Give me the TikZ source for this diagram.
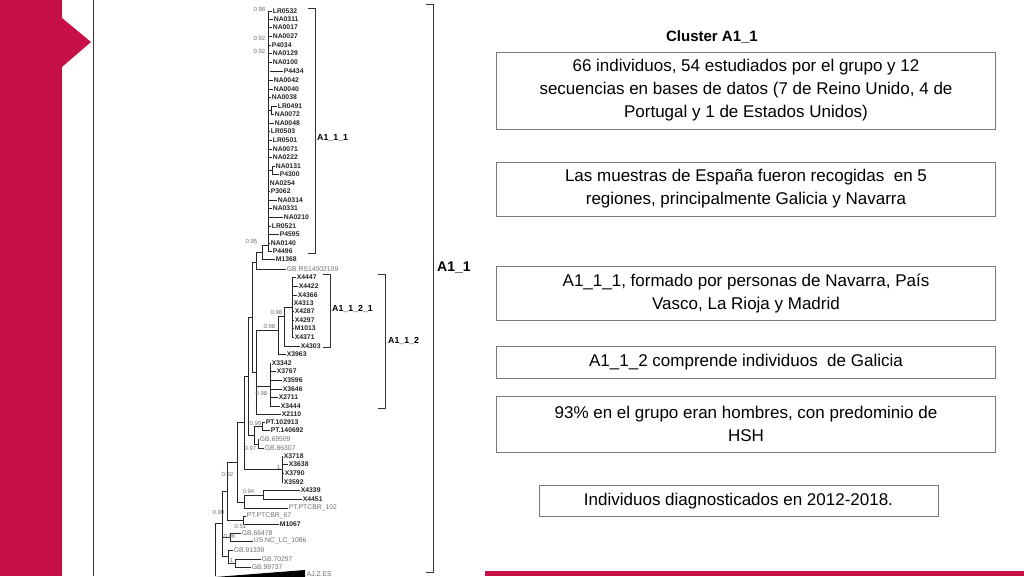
\documentclass[tikz,border=0pt]{standalone}
\usepackage{fontspec}
\setmainfont{Liberation Sans}
\definecolor{crim}{RGB}{200,16,72}
\definecolor{bgray}{RGB}{110,110,110}
\definecolor{boxgray}{RGB}{120,120,120}
\newcommand\tleaf[4]{\draw[tl] (#1,#3) -- (#2,#3) node[lbl]{#4};}
\newcommand\tgleaf[4]{\draw[tl] (#1,#3) -- (#2,#3) node[glbl]{#4};}
\newcommand\tvert[3]{\draw[tl] (#1,#2) -- (#1,#3);}
\newcommand\thor[3]{\draw[tl] (#1,#3) -- (#2,#3);}
\newcommand\tboot[3]{\node[bt] at (#1,#2) {#3};}
\begin{document}
\begin{tikzpicture}[x=1pt,y=-1pt,
  tl/.style={line width=0.55pt,black!85},
  lbl/.style={anchor=west,inner sep=0.6pt,font=\fontsize{6.8}{6.8}\selectfont\bfseries,text=black!85},
  glbl/.style={anchor=west,inner sep=0.6pt,font=\fontsize{6.8}{6.8}\selectfont,text=bgray},
  bt/.style={anchor=east,inner sep=0.5pt,font=\fontsize{6}{6}\selectfont,text=bgray},
  brk/.style={line width=0.7pt,black!80},
  clab/.style={anchor=west,font=\fontsize{8.8}{8.8}\selectfont\bfseries,inner sep=1pt},
  info/.style={draw=boxgray,line width=0.7pt,minimum width=499pt,align=center,inner sep=3pt,font=\fontsize{17}{23}\selectfont}]
\useasboundingbox (0,0) rectangle (1024,576);
\fill[white] (0,0) rectangle (1024,576);
% crimson decorations
\fill[crim] (0,0) rectangle (62,576);
\fill[crim] (62,18) -- (91,42) -- (62,67) -- cycle;
\fill[crim] (485,571) rectangle (1024,576);
\draw[line width=1pt,black!80] (93,0) -- (93,576);
% ---------- A1_1_1 clade
\tvert{268}{11}{251}
\tleaf{268}{272}{11}{LR0532}
\tleaf{268}{273}{19}{NA0311}
\tleaf{268}{272}{27}{NA0017}
\tleaf{268}{272}{36}{NA0027}
\tleaf{268}{271}{45}{P4034}
\tleaf{268}{272}{53}{NA0129}
\tleaf{268}{272}{62}{NA0100}
\tleaf{270}{283}{71}{P4434}
\tleaf{268}{273}{80}{NA0042}
\tleaf{268}{273}{89}{NA0040}
\tleaf{268}{271}{97}{NA0038}
\thor{268}{271}{110}\tvert{271}{106}{114}
\tleaf{271}{277}{106}{LR0491}
\tleaf{271}{274}{114}{NA0072}
\tleaf{268}{274}{123}{NA0048}
\tleaf{268}{270}{131}{LR0503}
\tleaf{268}{272}{140}{LR0501}
\tleaf{268}{272}{149}{NA0071}
\tleaf{268}{272}{157}{NA0222}
\thor{268}{272}{170}\tvert{272}{166}{174}
\tleaf{272}{275}{166}{NA0131}
\tleaf{272}{279}{174}{P4300}
\tleaf{268}{269}{183}{NA0254}
\tleaf{268}{270}{191}{P3062}
\tleaf{268}{277}{200}{NA0314}
\tleaf{268}{272}{208}{NA0331}
\tleaf{268}{283}{217}{NA0210}
\tleaf{268}{271}{226}{LR0521}
\tleaf{268}{279}{234}{P4595}
\tleaf{268}{270}{243}{NA0140}
\tleaf{268}{272}{251}{P4496}
\tboot{266}{9}{0.98}
\tboot{266}{38}{0.92}
\tboot{266}{51}{0.92}
\tvert{262}{245}{259}
\thor{262}{268}{245}
\tleaf{262}{275}{259}{M1368}
\tboot{258}{241}{0.95}
\tvert{256}{252}{269}
\thor{256}{262}{252}
\tgleaf{256}{286}{269}{GB.RS14002109}
% ---------- A1_1_2
\tvert{252}{262}{372}
\thor{252}{256}{262}
\tvert{256}{330}{414}
\thor{252}{256}{372}
\tvert{278}{316}{354}
\thor{256}{278}{330}
\tvert{284}{307}{346}
\thor{278}{284}{316}
\tboot{283}{312}{0.98}
\tboot{276}{326}{0.98}
\tvert{292}{277}{337}
\thor{284}{292}{307}
\tleaf{292}{296}{277}{X4447}
\tleaf{292}{298}{286}{X4422}
\tleaf{292}{297}{295}{X4366}
\tleaf{292}{293}{303}{X4313}
\tleaf{292}{294}{311}{X4287}
\tleaf{292}{294}{320}{X4297}
\tleaf{292}{294}{328}{M1013}
\tleaf{292}{294}{337}{X4371}
\tleaf{284}{300}{346}{X4303}
\tleaf{278}{286}{354}{X3963}
\tvert{270}{363}{406}
\thor{256}{270}{386}
\tleaf{270}{271}{363}{X3342}
\tleaf{270}{276}{371}{X3767}
\tleaf{270}{282}{380}{X3596}
\tleaf{270}{282}{389}{X3646}
\tleaf{270}{278}{397}{X2711}
\tleaf{270}{280}{406}{X3444}
\tboot{268}{393}{0.98}
\tleaf{256}{281}{414}{X2110}
% PT / GB groups
\tvert{248}{317}{435}
\thor{248}{252}{317}
\tvert{254}{426}{444}
\thor{248}{254}{435}
\tvert{262}{422}{430}
\thor{254}{262}{426}
\tleaf{262}{265}{422}{PT.102913}
\tleaf{262}{270}{430}{PT.140692}
\tvert{258}{439}{448}
\thor{254}{258}{444}
\tgleaf{258}{259}{439}{GB.69509}
\tgleaf{258}{264}{448}{GB.86307}
\tboot{262}{423}{0.99}
\tboot{257}{448}{0.97}
% X3718 group
\tvert{244}{376}{469}
\thor{244}{248}{376}
\tvert{282}{456}{482}
\thor{244}{282}{469}
\tleaf{282}{283}{456}{X3718}
\tleaf{282}{288}{464}{X3638}
\tleaf{282}{284}{473}{X3790}
\tleaf{282}{283}{482}{X3592}
\tboot{281}{467}{1}
% 0.92 node
\tvert{237}{422}{502}
\thor{237}{244}{422}
\tvert{244}{495}{508}
\thor{237}{244}{502}
\tvert{263}{490}{499}
\thor{244}{263}{495}
\tleaf{263}{300}{490}{X4339}
\tleaf{263}{302}{499}{X4451}
\tgleaf{244}{288}{508}{PT.PTCBR\_102}
\tboot{255}{491}{0.94}
\tboot{234}{474}{0.92}
% 0.99 node
\tvert{227}{462}{520}
\thor{227}{237}{462}
\tvert{243}{516}{524}
\thor{227}{243}{520}
\tgleaf{243}{246}{516}{PT.PTCBR\_67}
\tleaf{243}{279}{524}{M1067}
\tboot{225}{512}{0.99}
\tboot{247}{526}{0.51}
% lower part
\tvert{222}{491}{556}
\thor{222}{227}{491}
\tvert{230}{533}{541}
\thor{222}{230}{537}
\tgleaf{230}{241}{533}{GB.66478}
\tgleaf{230}{253}{541}{US.NC\_LC\_1086}
\tboot{236}{536}{0.96}
\tvert{228}{550}{563}
\thor{222}{228}{556}
\tgleaf{228}{233}{550}{GB.91339}
\tvert{235}{559}{567}
\thor{228}{235}{563}
\tgleaf{235}{261}{559}{GB.70297}
\tgleaf{235}{251}{567}{GB.99737}
\tboot{234}{560}{1}
\tvert{215}{523}{576}
\thor{215}{222}{523}
\fill[black] (215,577) -- (305,570) -- (305,580) -- cycle;
\node[glbl] at (306,574) {AJ.Z.ES};
% brackets
\draw[brk] (308,8) -- (315,8) -- (315,253) -- (308,253);
\node[clab] at (316,138) {A1\_1\_1};
\draw[brk] (323,274) -- (330,274) -- (330,347) -- (323,347);
\node[clab] at (331,309) {A1\_1\_2\_1};
\draw[brk] (378,274) -- (385,274) -- (385,408) -- (378,408);
\node[clab] at (387,341) {A1\_1\_2};
\draw[brk] (426,4) -- (433,4) -- (433,572) -- (426,572);
\node[clab,font=\fontsize{14}{14}\selectfont\bfseries] at (436,268) {A1\_1};
% right side text
\node[font=\fontsize{15}{15}\selectfont\bfseries] (title) at (712,37) {Cluster A1\_1};
\node[info,minimum height=77pt] (b1) at (746,90.5) {66 individuos, 54 estudiados por el grupo y 12\\secuencias en bases de datos (7 de Reino Unido, 4 de\\Portugal y 1 de Estados Unidos)};
\node[info,minimum height=54pt] (b2) at (746,189) {Las muestras de España fueron recogidas \ en 5\\regiones, principalmente Galicia y Navarra};
\node[info,minimum height=54pt] (b3) at (746,293) {A1\_1\_1, formado por personas de Navarra, País\\Vasco, La Rioja y Madrid};
\node[info,minimum height=32pt] (b4) at (746,362) {A1\_1\_2 comprende individuos \ de Galicia};
\node[info,minimum height=56pt] (b5) at (746,424) {93\% en el grupo eran hombres, con predominio de\\HSH};
\node[info,minimum width=399pt,minimum height=31pt] (b6) at (738.5,501) {Individuos diagnosticados en 2012-2018.};
\end{tikzpicture}
\end{document}
